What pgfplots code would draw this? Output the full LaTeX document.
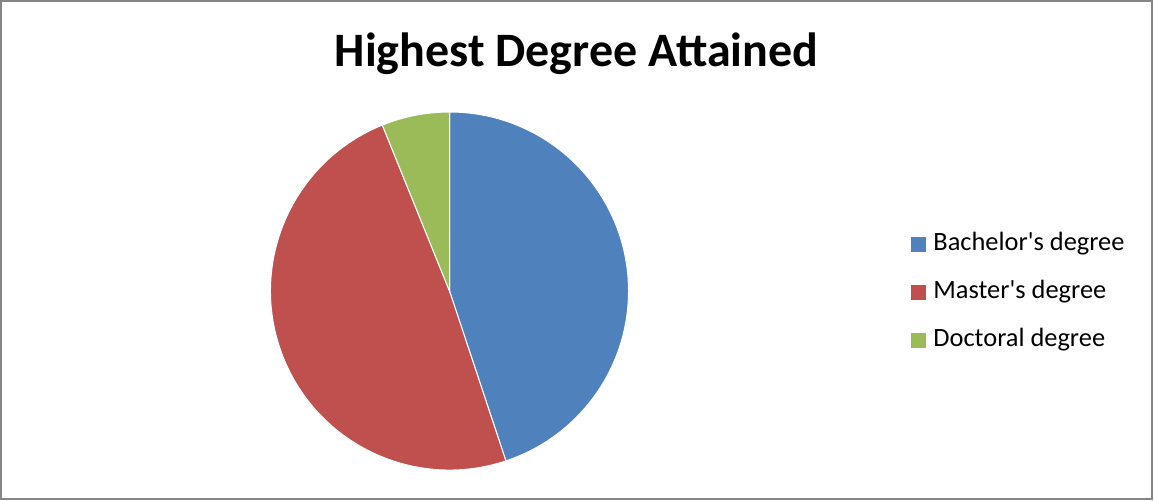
\documentclass[border=0pt]{standalone}
\usepackage{fontspec}
\setmainfont{Carlito}[Ligatures=TeXOff]
\usepackage{pgfplots}
\usepackage{pgfplotstable}
\pgfplotsset{compat=1.18}

\definecolor{bachblue}{HTML}{4F81BD}
\definecolor{mastred}{HTML}{C0504D}
\definecolor{doctgreen}{HTML}{9BBB59}
\definecolor{framegray}{HTML}{868686}

% Number of respondents by highest degree attained
\pgfplotstableread{
degree   count
Bachelor 22
Master   24
Doctoral 3
}\degrees

\begin{document}
\begin{tikzpicture}
% slice sizes and start/end angles (clockwise from 12 o'clock)
\pgfplotstablegetelem{0}{count}\of\degrees \let\nA\pgfplotsretval
\pgfplotstablegetelem{1}{count}\of\degrees \let\nB\pgfplotsretval
\pgfplotstablegetelem{2}{count}\of\degrees \let\nC\pgfplotsretval
\pgfmathsetmacro\total{\nA+\nB+\nC}
\pgfmathsetmacro\aA{90}
\pgfmathsetmacro\aB{\aA-360*\nA/\total}
\pgfmathsetmacro\aC{\aB-360*\nB/\total}
\pgfmathsetmacro\aD{\aC-360*\nC/\total}
\def\R{89.5pt}
\begin{axis}[
  width=577pt, height=250pt, scale only axis,
  xmin=0, xmax=1154, ymin=0, ymax=500,
  hide axis, clip=false,
  legend image code/.code={\fill[#1] (0pt,-3.75pt) rectangle (7.5pt,3.75pt);},
  legend cell align=left,
  legend style={
    draw=none, fill=none, inner sep=0pt,
    at={(axis cs:911,208)}, anchor=west,
    font=\fontsize{13.2}{15}\selectfont,
    row sep=12pt,
    nodes={inner sep=0pt, text height=9pt, text depth=3pt},
    /tikz/every odd column/.append style={column sep=3.5pt},
  },
]
\path (axis cs:0,0) rectangle (axis cs:1154,500);
\draw[framegray, line width=1pt] (axis cs:1,1.5) rectangle (axis cs:1152,499);

\node[font=\fontsize{24}{29}\selectfont\bfseries] at (axis cs:576.5,446) {Highest Degree Attained};

\fill[bachblue, draw=white, line width=0.5pt]
  (axis cs:449.5,209) -- ++(\aA:\R) arc[start angle=\aA, end angle=\aB, radius=\R] -- cycle;
\fill[mastred, draw=white, line width=0.5pt]
  (axis cs:449.5,209) -- ++(\aB:\R) arc[start angle=\aB, end angle=\aC, radius=\R] -- cycle;
\fill[doctgreen, draw=white, line width=0.5pt]
  (axis cs:449.5,209) -- ++(\aC:\R) arc[start angle=\aC, end angle=\aD, radius=\R] -- cycle;

\addlegendimage{fill=bachblue, draw=none}
\addlegendentry{Bachelor's degree}
\addlegendimage{fill=mastred, draw=none}
\addlegendentry{Master's degree}
\addlegendimage{fill=doctgreen, draw=none}
\addlegendentry{Doctoral degree}
\end{axis}
\end{tikzpicture}
\end{document}
